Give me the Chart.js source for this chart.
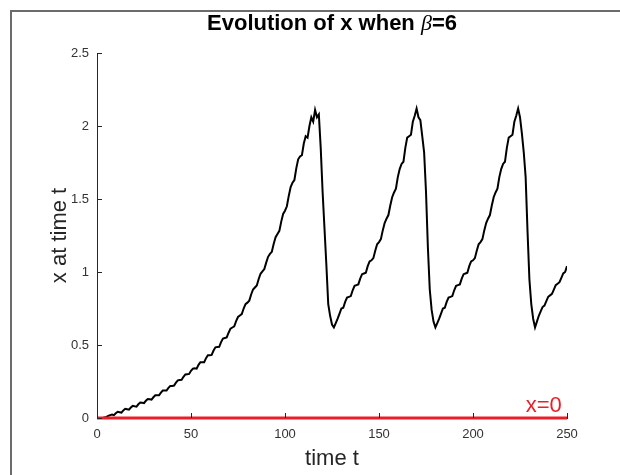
<!DOCTYPE html>
<html>
<head>
<meta charset="utf-8">
<script src="https://cdn.jsdelivr.net/npm/chart.js@4.4.1/dist/chart.umd.min.js"></script>
<style>
  html, body { margin: 0; padding: 0; background: #fff; }
  #wrap { position: relative; width: 620px; height: 475px; overflow: hidden; }
  #chart { position: absolute; left: 0; top: 0; }
  /* figure window edge visible in the screenshot */
  #frame {
    position: absolute; left: 10px; top: 10px; right: -4px; bottom: -4px;
    border-top: 2px solid #6b6b6b; border-left: 2px solid #6b6b6b;
    pointer-events: none;
  }
</style>
</head>
<body>
<div id="wrap">
  <canvas id="chart" width="620" height="475"></canvas>
  <div id="frame"></div>
</div>
<script>
// ---- data ----
const timeTicks = [0, 50, 100, 150, 200, 250];
const valueTicks = [0, 0.5, 1, 1.5, 2, 2.5];

// x(t) for t = 0, 1, ..., 250
const xSeries = [
  0, 0, 0, 0, 0.004, 0.008, 0.014, 0.02, 0.023, 0.019,
  0.032, 0.043, 0.04, 0.037, 0.052, 0.063, 0.06, 0.057, 0.072, 0.083,
  0.08, 0.078, 0.094, 0.106, 0.104, 0.102, 0.118, 0.13, 0.128, 0.126,
  0.142, 0.156, 0.156, 0.156, 0.174, 0.188, 0.188, 0.188, 0.206, 0.22,
  0.22, 0.222, 0.242, 0.258, 0.26, 0.262, 0.282, 0.298, 0.3, 0.302,
  0.323, 0.338, 0.34, 0.338, 0.364, 0.382, 0.382, 0.382, 0.41, 0.43,
  0.43, 0.432, 0.462, 0.484, 0.486, 0.488, 0.52, 0.544, 0.548, 0.552,
  0.584, 0.612, 0.62, 0.628, 0.664, 0.692, 0.702, 0.712, 0.75, 0.78,
  0.79, 0.804, 0.846, 0.88, 0.894, 0.908, 0.952, 0.988, 1.004, 1.02,
  1.064, 1.104, 1.124, 1.138, 1.193, 1.238, 1.26, 1.282, 1.345, 1.398,
  1.42, 1.45, 1.521, 1.582, 1.612, 1.63, 1.71, 1.772, 1.792, 1.8,
  1.88, 1.93, 1.92, 2.0, 2.06, 2.03, 2.11, 2.06, 2.08, 1.85,
  1.55, 1.3, 1.05, 0.78, 0.7, 0.64, 0.62, 0.65, 0.68, 0.715,
  0.75, 0.755, 0.795, 0.825, 0.83, 0.835, 0.875, 0.905, 0.91, 0.915,
  0.955, 0.985, 0.99, 0.995, 1.04, 1.072, 1.08, 1.095, 1.145, 1.19,
  1.205, 1.225, 1.285, 1.335, 1.365, 1.39, 1.455, 1.512, 1.545, 1.57,
  1.65, 1.705, 1.74, 1.755, 1.85, 1.92, 1.93, 1.94, 2.03, 2.07,
  2.12, 2.06, 2.04, 1.93, 1.82, 1.55, 1.17, 0.88, 0.74, 0.66,
  0.62, 0.65, 0.68, 0.715, 0.75, 0.755, 0.795, 0.825, 0.83, 0.835,
  0.875, 0.905, 0.91, 0.915, 0.955, 0.985, 0.99, 0.995, 1.04, 1.072,
  1.08, 1.095, 1.145, 1.19, 1.205, 1.225, 1.285, 1.335, 1.365, 1.39,
  1.455, 1.512, 1.545, 1.57, 1.65, 1.705, 1.74, 1.755, 1.85, 1.92,
  1.93, 1.94, 2.03, 2.07, 2.12, 2.06, 1.95, 1.82, 1.65, 1.28,
  0.95, 0.78, 0.68, 0.62, 0.66, 0.7, 0.73, 0.76, 0.77, 0.8,
  0.83, 0.84, 0.85, 0.88, 0.91, 0.92, 0.93, 0.96, 0.99, 1.0,
  1.04
];

// reference line x = 0
const zeroTimes = [0, 250];
const zeroValues = [0, 0];

const titleParts = ['Evolution of x when ', 'β', '=6'];
const zeroLabel = { text: 'x=0', t: 228, value: 0 };

const SANS = '"Liberation Sans", Arial, Helvetica, sans-serif';
const AXIS_COLOR = '#262626';
const RED = 'rgb(232, 30, 40)';

// ---- plugins ----
// MATLAB-like inward tick marks on the left and bottom axes
const inwardTicks = {
  id: 'inwardTicks',
  afterDatasetsDraw(chart) {
    const { ctx, chartArea, scales } = chart;
    const len = 5;
    ctx.save();
    ctx.strokeStyle = AXIS_COLOR;
    ctx.lineWidth = 1;
    ctx.beginPath();
    timeTicks.forEach(v => {
      const px = Math.round(scales.x.getPixelForValue(v)) + 0.5;
      ctx.moveTo(px, chartArea.bottom);
      ctx.lineTo(px, chartArea.bottom - len);
    });
    valueTicks.forEach(v => {
      const py = Math.round(scales.y.getPixelForValue(v)) + 0.5;
      ctx.moveTo(chartArea.left, py);
      ctx.lineTo(chartArea.left + len, py);
    });
    ctx.stroke();
    ctx.restore();
  }
};

// title with an italic beta, plus the red "x=0" text label
const annotations = {
  id: 'annotations',
  afterDraw(chart) {
    const { ctx, chartArea, scales } = chart;
    ctx.save();

    const fonts = [
      'bold 22px ' + SANS,
      'italic 22px "Liberation Serif", "DejaVu Serif", serif',
      'bold 22px ' + SANS
    ];
    const widths = titleParts.map((s, i) => {
      ctx.font = fonts[i];
      return ctx.measureText(s).width;
    });
    const total = widths.reduce((a, b) => a + b, 0);
    let x = (chartArea.left + chartArea.right) / 2 - total / 2;
    ctx.fillStyle = '#000';
    ctx.textBaseline = 'middle';
    ctx.textAlign = 'left';
    titleParts.forEach((s, i) => {
      ctx.font = fonts[i];
      ctx.fillText(s, x, 24);
      x += widths[i];
    });

    ctx.font = '22px ' + SANS;
    ctx.fillStyle = RED;
    ctx.textBaseline = 'alphabetic';
    ctx.fillText(zeroLabel.text,
      scales.x.getPixelForValue(zeroLabel.t),
      scales.y.getPixelForValue(zeroLabel.value) - 6);
    ctx.restore();
  }
};

// ---- chart ----
const ctx = document.getElementById('chart');
new Chart(ctx, {
  type: 'line',
  data: {
    datasets: [{
      label: 'x',
      data: xSeries.map((v, t) => ({ x: t, y: v })),
      borderColor: '#000',
      borderWidth: 2,
      pointRadius: 0,
      tension: 0,
      order: 1
    }, {
      label: 'x=0',
      data: zeroTimes.map((t, i) => ({ x: t, y: zeroValues[i] })),
      borderColor: RED,
      borderWidth: 3,
      pointRadius: 0,
      clip: false,
      order: 0
    }]
  },
  options: {
    responsive: false,
    animation: false,
    events: [],
    layout: { padding: { top: 53, right: 53, left: 0, bottom: 0 } },
    plugins: {
      legend: { display: false },
      tooltip: { enabled: false },
      title: { display: false }
    },
    scales: {
      x: {
        type: 'linear',
        min: 0,
        max: 250,
        afterBuildTicks: s => { s.ticks = timeTicks.map(v => ({ value: v })); },
        afterFit: s => { s.height = 57; },
        grid: { display: true, drawOnChartArea: false, drawTicks: false },
        border: { display: true, color: AXIS_COLOR, width: 1 },
        ticks: {
          color: '#333',
          font: { family: SANS, size: 13 },
          padding: 9,
          maxRotation: 0,
          callback: v => String(v)
        },
        title: {
          display: true,
          text: 'time t',
          color: '#262626',
          font: { family: SANS, size: 22 },
          padding: { top: 0, bottom: 3 }
        }
      },
      y: {
        type: 'linear',
        min: 0,
        max: 2.5,
        afterBuildTicks: s => { s.ticks = valueTicks.map(v => ({ value: v })); },
        afterFit: s => { s.width = 97; },
        grid: { display: true, drawOnChartArea: false, drawTicks: false },
        border: { display: true, color: AXIS_COLOR, width: 1 },
        ticks: {
          color: '#333',
          font: { family: SANS, size: 13 },
          padding: 8,
          callback: v => String(v)
        },
        title: {
          display: true,
          text: 'x at time t',
          color: '#262626',
          font: { family: SANS, size: 22 },
          padding: { top: 47, bottom: 0 }
        }
      }
    }
  },
  plugins: [inwardTicks, annotations]
});
</script>
</body>
</html>
